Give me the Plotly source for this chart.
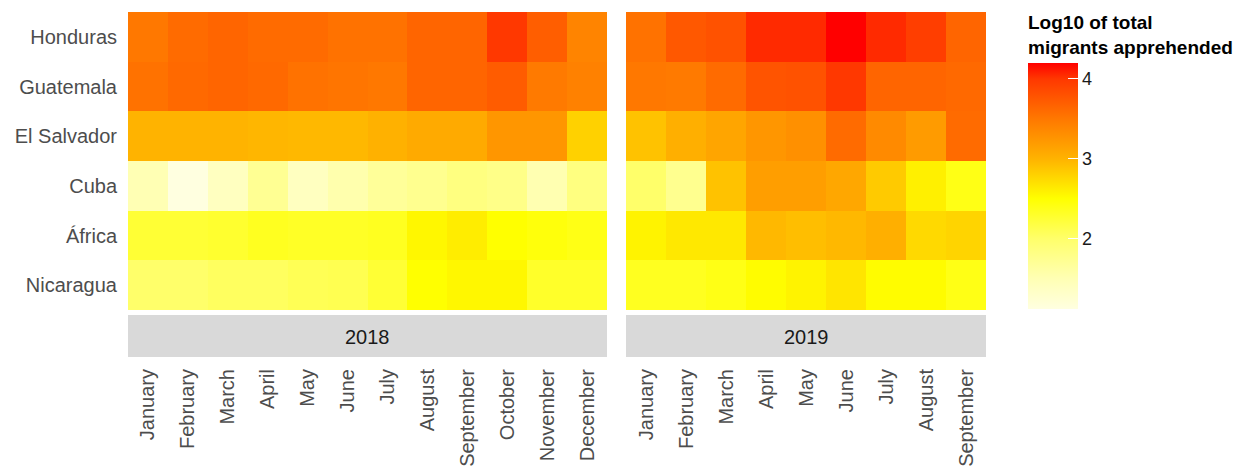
import plotly.graph_objects as go

# Countries / regions of origin (top to bottom)
countries = ["Honduras", "Guatemala", "El Salvador", "Cuba", "África", "Nicaragua"]

months_2018 = ["January", "February", "March", "April", "May", "June", "July",
               "August", "September", "October", "November", "December"]
months_2019 = ["January", "February", "March", "April", "May", "June", "July",
               "August", "September"]

# Log10 of total migrants apprehended, one row per country
log_2018 = [
    [3.50, 3.60, 3.65, 3.60, 3.60, 3.55, 3.55, 3.65, 3.65, 4.00, 3.70, 3.40],  # Honduras
    [3.55, 3.62, 3.65, 3.62, 3.55, 3.52, 3.50, 3.65, 3.65, 3.72, 3.48, 3.42],  # Guatemala
    [3.00, 3.00, 3.00, 2.98, 2.97, 2.97, 3.02, 3.08, 3.08, 3.25, 3.25, 2.80],  # El Salvador
    [1.50, 1.12, 1.40, 1.72, 1.40, 1.55, 1.68, 1.75, 1.85, 1.80, 1.52, 1.85],  # Cuba
    [2.25, 2.25, 2.28, 2.35, 2.32, 2.32, 2.35, 2.55, 2.62, 2.50, 2.45, 2.40],  # África
    [2.00, 2.00, 2.05, 2.05, 2.10, 2.12, 2.25, 2.50, 2.55, 2.55, 2.30, 2.30],  # Nicaragua
]
log_2019 = [
    [3.55, 3.75, 3.80, 4.05, 4.05, 4.20, 4.05, 3.95, 3.65],  # Honduras
    [3.50, 3.48, 3.60, 3.78, 3.80, 4.00, 3.65, 3.65, 3.62],  # Guatemala
    [2.90, 3.03, 3.12, 3.25, 3.30, 3.60, 3.35, 3.20, 3.60],  # El Salvador
    [2.00, 1.75, 2.90, 3.18, 3.18, 3.10, 2.85, 2.60, 2.40],  # Cuba
    [2.58, 2.65, 2.65, 2.97, 2.93, 2.97, 3.03, 2.75, 2.78],  # África
    [2.35, 2.35, 2.40, 2.52, 2.58, 2.67, 2.52, 2.52, 2.40],  # Nicaragua
]

years = ["2018", "2019"]
legend_title = "Log10 of total<br>migrants apprehended"
colorbar_ticks = [2, 3, 4]

zmin = min(min(r) for r in log_2018 + log_2019)
zmax = max(max(r) for r in log_2018 + log_2019)

def frac(v):
    return (v - zmin) / (zmax - zmin)

# light yellow -> yellow -> orange -> red
heat_scale = [
    [0.0, "#FFFFE0"],
    [frac(1.5), "#FFFFB4"],
    [frac(2.0), "#FFFF6A"],
    [frac(2.5), "#FFFF00"],
    [frac(3.0), "#FFB300"],
    [frac(3.5), "#FF7800"],
    [frac(4.0), "#FF3800"],
    [1.0, "#FF0000"],
]

W, H = 1242, 470
FONT = "Liberation Sans, Arial, sans-serif"

def px_x(p):
    return p / W

def px_y(p):
    return 1 - p / H

fig = go.Figure()
fig.add_trace(go.Heatmap(x=months_2018, y=countries, z=log_2018,
                         coloraxis="coloraxis", xaxis="x", yaxis="y",
                         hovertemplate="%{y} %{x} 2018: %{z}<extra></extra>"))
fig.add_trace(go.Heatmap(x=months_2019, y=countries, z=log_2019,
                         coloraxis="coloraxis", xaxis="x2", yaxis="y",
                         hovertemplate="%{y} %{x} 2019: %{z}<extra></extra>"))

tick_font = dict(family=FONT, size=20, color="#4D4D4D")
xcommon = dict(type="category", tickangle=-90, ticks="", showgrid=False,
               zeroline=False, showline=False, tickfont=tick_font,
               ticklabelstandoff=54, anchor="y")

fig.update_layout(
    width=W, height=H,
    margin=dict(l=0, r=0, t=0, b=0),
    paper_bgcolor="white", plot_bgcolor="white",
    xaxis=dict(domain=[px_x(128), px_x(607)], categoryorder="array",
               categoryarray=months_2018, **xcommon),
    xaxis2=dict(domain=[px_x(626), px_x(986)], categoryorder="array",
                categoryarray=months_2019, **xcommon),
    yaxis=dict(domain=[px_y(310), px_y(12)], type="category",
               categoryorder="array", categoryarray=countries,
               autorange="reversed", ticks="", showgrid=False, zeroline=False,
               tickfont=tick_font, ticklabelstandoff=10),
    coloraxis=dict(
        colorscale=heat_scale, cmin=zmin, cmax=zmax,
        colorbar=dict(
            title=dict(text=legend_title, side="top",
                       font=dict(family=FONT, size=19, color="#000000",
                                 weight="bold")),
            thickness=50, thicknessmode="pixels",
            len=297, lenmode="pixels",
            x=px_x(1028), xanchor="left", xpad=0,
            y=px_y(12), yanchor="top", ypad=0,
            outlinewidth=0,
            tickvals=colorbar_ticks, ticks="inside", ticklen=10,
            tickcolor="white", tickwidth=1,
            tickfont=dict(family=FONT, size=18, color="#1A1A1A"),
        ),
    ),
)

# facet strips
for ax, year in zip(["x", "x2"], years):
    fig.add_shape(type="rect", xref=f"{ax} domain", yref="paper",
                  x0=0, x1=1, y0=px_y(357), y1=px_y(315),
                  fillcolor="#D9D9D9", line=dict(width=0), layer="below")
    fig.add_annotation(text=year, xref=f"{ax} domain", yref="paper",
                       x=0.5, y=px_y(337), showarrow=False,
                       xanchor="center", yanchor="middle",
                       font=dict(family=FONT, size=20, color="#1A1A1A"))

fig.write_html("out.html")
